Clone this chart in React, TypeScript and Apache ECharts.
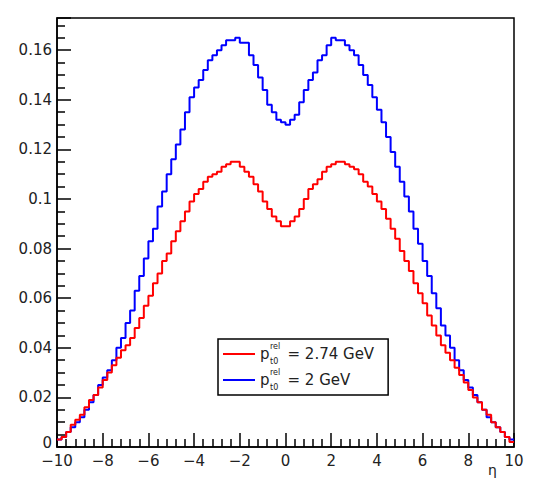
import React, { useEffect, useRef } from "react";
import * as echarts from "echarts";

// Histogram binning (100 bins of width 0.2 from -10 to 10)
const BIN_MIN = -10;
const BIN_WIDTH = 0.2;

// Bin contents, left to right
const blueValues = [
  0.003, 0.004, 0.006, 0.008, 0.010, 0.012, 0.015, 0.018, 0.021, 0.025,
  0.028, 0.031, 0.035, 0.040, 0.044, 0.050, 0.055, 0.063, 0.069, 0.076,
  0.083, 0.088, 0.097, 0.103, 0.110, 0.116, 0.122, 0.128, 0.135, 0.141,
  0.145, 0.148, 0.152, 0.156, 0.158, 0.160, 0.162, 0.164, 0.164, 0.165,
  0.163, 0.163, 0.158, 0.154, 0.149, 0.144, 0.138, 0.135, 0.132, 0.131,
  0.130, 0.132, 0.134, 0.139, 0.144, 0.148, 0.151, 0.156, 0.158, 0.162,
  0.165, 0.164, 0.164, 0.162, 0.160, 0.158, 0.154, 0.150, 0.146, 0.141,
  0.136, 0.131, 0.125, 0.119, 0.113, 0.107, 0.101, 0.095, 0.088, 0.082,
  0.075, 0.069, 0.062, 0.056, 0.049, 0.045, 0.040, 0.035, 0.031, 0.027,
  0.024, 0.021, 0.018, 0.015, 0.012, 0.010, 0.008, 0.006, 0.004, 0.003,
];

const redValues = [
  0.003, 0.004, 0.006, 0.009, 0.011, 0.013, 0.016, 0.019, 0.021, 0.024,
  0.027, 0.030, 0.033, 0.036, 0.039, 0.041, 0.044, 0.048, 0.052, 0.057,
  0.061, 0.066, 0.070, 0.075, 0.078, 0.083, 0.087, 0.091, 0.095, 0.099,
  0.102, 0.104, 0.107, 0.109, 0.110, 0.111, 0.113, 0.114, 0.115, 0.115,
  0.113, 0.111, 0.109, 0.106, 0.103, 0.099, 0.096, 0.093, 0.091, 0.089,
  0.089, 0.091, 0.093, 0.096, 0.100, 0.104, 0.106, 0.108, 0.111, 0.113,
  0.114, 0.115, 0.115, 0.114, 0.113, 0.112, 0.110, 0.107, 0.105, 0.102,
  0.099, 0.096, 0.092, 0.088, 0.084, 0.079, 0.075, 0.071, 0.066, 0.062,
  0.058, 0.053, 0.049, 0.045, 0.041, 0.038, 0.035, 0.032, 0.029, 0.026,
  0.023, 0.020, 0.018, 0.015, 0.013, 0.010, 0.008, 0.006, 0.004, 0.002,
];

const seriesNames = ["2.74 GeV", "2 GeV"];
const seriesColors = ["#ff0000", "#0000ff"];

const xTickInterval = 2;
const yTickInterval = 0.02;
const yMax = 0.173;

const FONT = "DejaVu Sans";
const TEXT_COLOR = "#222";

function toSteps(vals: number[]): number[][] {
  const pts = vals.map((v, i) => [BIN_MIN + i * BIN_WIDTH, v]);
  pts.push([BIN_MIN + vals.length * BIN_WIDTH, vals[vals.length - 1]]);
  return pts;
}

export default function App() {
  const ref = useRef<HTMLDivElement>(null);

  useEffect(() => {
    document.body.style.margin = "0";
    if (!ref.current) return;
    const chart = echarts.init(ref.current, null, { renderer: "svg" });

    const legendRowTop = 342;
    const legendPitch = 26;

    chart.setOption({
      animation: false,
      backgroundColor: "#fff",
      grid: {
        left: 57,
        right: 20,
        top: 18,
        bottom: 32,
        show: true,
        borderColor: "#000",
        borderWidth: 1.5,
        outerBoundsMode: "none",
      },
      xAxis: {
        type: "value",
        min: -10,
        max: 10,
        interval: xTickInterval,
        axisLine: { show: true, onZero: false, lineStyle: { color: "#000", width: 1.5 } },
        axisTick: { show: true, inside: true, length: 14, lineStyle: { color: "#000", width: 1.5 } },
        minorTick: { show: true, splitNumber: 5, length: 8, lineStyle: { color: "#000", width: 1.5 } },
        splitLine: { show: false },
        axisLabel: {
          margin: 6,
          color: TEXT_COLOR,
          fontFamily: FONT,
          fontSize: 15,
          formatter: (v: number) => (v < 0 ? "\u2212" + Math.abs(v) : String(v)),
        },
      },
      yAxis: {
        type: "value",
        min: 0,
        max: yMax,
        interval: yTickInterval,
        axisLine: { show: true, onZero: false, lineStyle: { color: "#000", width: 1.5 } },
        axisTick: { show: true, inside: true, length: 14, lineStyle: { color: "#000", width: 1.5 } },
        minorTick: { show: true, splitNumber: 4, length: 8, lineStyle: { color: "#000", width: 1.5 } },
        splitLine: { show: false },
        axisLabel: {
          margin: 5,
          showMaxLabel: false,
          color: TEXT_COLOR,
          fontFamily: FONT,
          fontSize: 15,
          formatter: (v: number) =>
            v === 0 ? "{z|0}" : String(parseFloat(v.toFixed(3))),
          rich: {
            z: {
              fontFamily: FONT,
              fontSize: 15,
              color: TEXT_COLOR,
              lineHeight: 15,
              padding: [0, 0, 8, 0],
            },
          },
        },
      },
      legend: {
        orient: "vertical",
        left: 218,
        top: 339,
        data: seriesNames,
        icon: "rect",
        itemWidth: 32,
        itemHeight: 2,
        itemGap: 4,
        padding: [4, 14, 4, 5],
        borderColor: "#000",
        borderWidth: 1.5,
        backgroundColor: "#fff",
        textStyle: {
          color: TEXT_COLOR,
          fontFamily: FONT,
          fontSize: 15,
          lineHeight: 22,
          rich: {
            p: { fontFamily: FONT, fontSize: 15, lineHeight: 22, color: TEXT_COLOR },
            g: { width: 18, lineHeight: 22 },
            t: { fontFamily: FONT, fontSize: 15, lineHeight: 22, color: TEXT_COLOR },
          },
        },
        formatter: (name: string) => `{p|p}{g|}{t|= ${name}}`,
      },
      graphic: [
        ...seriesNames.flatMap((_, i) => [
          {
            type: "text",
            left: 270,
            top: legendRowTop + i * legendPitch,
            z: 100,
            style: { text: "rel", fontSize: 8, fontFamily: FONT, fill: TEXT_COLOR },
          },
          {
            type: "text",
            left: 270,
            top: legendRowTop + 15 + i * legendPitch,
            z: 100,
            style: { text: "t0", fontSize: 8, fontFamily: FONT, fill: TEXT_COLOR },
          },
        ]),
        {
          type: "text",
          left: 488,
          top: 463,
          style: { text: "η", fontSize: 14, fontFamily: FONT, fill: TEXT_COLOR },
        },
      ],
      series: [
        {
          name: seriesNames[1],
          type: "line",
          step: "end",
          data: toSteps(blueValues),
          showSymbol: false,
          symbol: "none",
          lineStyle: { color: seriesColors[1], width: 2 },
          itemStyle: { color: seriesColors[1] },
          z: 2,
        },
        {
          name: seriesNames[0],
          type: "line",
          step: "end",
          data: toSteps(redValues),
          showSymbol: false,
          symbol: "none",
          lineStyle: { color: seriesColors[0], width: 2 },
          itemStyle: { color: seriesColors[0] },
          z: 3,
        },
      ],
    });

    return () => chart.dispose();
  }, []);

  return <div ref={ref} style={{ width: 534, height: 479 }} />;
}
